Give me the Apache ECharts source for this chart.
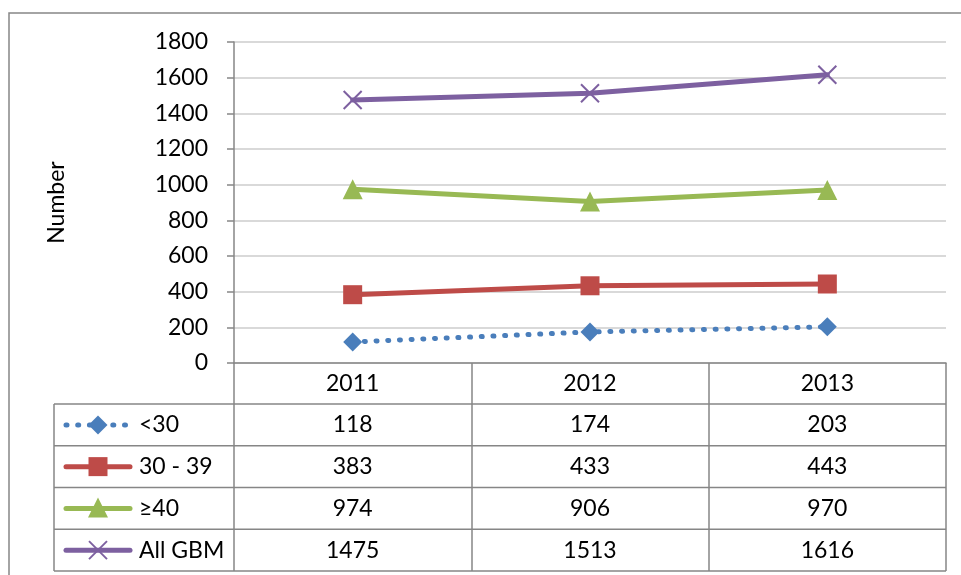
<!DOCTYPE html>
<html>
<head>
<meta charset="utf-8">
<script src="https://cdn.jsdelivr.net/npm/echarts@6/dist/echarts.min.js"></script>
<style>
  html, body { margin: 0; padding: 0; background: #fff; }
  #chart { width: 961px; height: 575px; }
</style>
</head>
<body>
<div id="chart"></div>
<script>
// Yearly counts by age group
const years = ['2011', '2012', '2013'];
const under30 = [118, 174, 203];
const age30to39 = [383, 433, 443];
const age40plus = [974, 906, 970];
const allGBM = [1475, 1513, 1616];
const seriesNames = ['<30', '30 - 39', '≥40', 'All GBM'];
const yMin = 0, yMax = 1800, yStep = 200;

const FONT = 'Lato';
const FS = 23;
const GRAY = '#868686';
const GRID_GRAY = '#d9d9d9';
const colors = ['#4a7ebb', '#be4b48', '#98b954', '#7d60a0'];

// Layout of plot area and the data table below it
const PLOT_L = 234, PLOT_R = 946, PLOT_T = 42, PLOT_B = 363;
const TABLE_L = 54, HEADER_B = 404, ROW_H = 41.75;

const chart = echarts.init(document.getElementById('chart'));

const seriesData = [under30, age30to39, age40plus, allGBM];
const symbols = ['diamond', 'rect', 'triangle', 'path://M0,0L10,10M0,10L10,0'];
const symbolSizes = [19, 19, 20, 18];
const DOTS = [1, 10.7];

const series = seriesData.map((d, i) => ({
  name: seriesNames[i],
  type: 'line',
  data: d,
  symbol: symbols[i],
  symbolSize: symbolSizes[i],
  showAllSymbol: true,
  z: 3 + i,
  lineStyle: i === 0
    ? { color: colors[i], width: 5, type: DOTS, cap: 'round' }
    : { color: colors[i], width: 5, cap: 'round' },
  itemStyle: i === 3
    ? { color: 'none', borderColor: colors[i], borderWidth: 2 }
    : { color: colors[i], borderWidth: 0 },
  emphasis: { disabled: true },
  animation: false
}));

chart.setOption({
  animation: false,
  textStyle: { fontFamily: FONT },
  grid: { left: PLOT_L, right: 961 - PLOT_R, top: PLOT_T, bottom: 575 - PLOT_B, containLabel: false },
  xAxis: {
    type: 'category',
    data: years,
    boundaryGap: true,
    axisLine: { lineStyle: { color: GRAY, width: 1.5 } },
    axisTick: { show: true, length: 571 - PLOT_B, lineStyle: { color: GRAY, width: 1.5 } },
    axisLabel: { fontFamily: FONT, fontSize: FS, color: '#000', margin: 20.5, verticalAlign: 'middle' }
  },
  yAxis: {
    type: 'value',
    min: yMin, max: yMax, interval: yStep,
    name: 'Number',
    nameLocation: 'middle',
    nameRotate: 90,
    nameGap: 166,
    nameMoveOverlap: false,
    nameTextStyle: { fontFamily: FONT, fontSize: FS, color: '#000' },
    axisLine: { show: true, lineStyle: { color: GRAY, width: 1.5 } },
    axisTick: { show: true, length: 7, lineStyle: { color: GRAY, width: 1.5 } },
    axisLabel: { fontFamily: FONT, fontSize: FS, color: '#000', margin: 26, formatter: v => String(v) },
    splitLine: { lineStyle: { color: GRID_GRAY, width: 2 } }
  },
  series: series
});

// Data table: grid lines, legend keys and cell values beneath the plot
const graphics = [];
graphics.push({
  type: 'rect', z: 0, silent: true,
  shape: { x: 9, y: 13, width: 1000, height: 1000 },
  style: { fill: 'none', stroke: GRAY, lineWidth: 1.5 }
});
const gridLine = { stroke: GRAY, lineWidth: 1.5 };
for (let r = 0; r <= seriesNames.length; r++) {
  const y = HEADER_B + r * ROW_H;
  graphics.push({ type: 'line', silent: true, z: 10, shape: { x1: TABLE_L, y1: y, x2: PLOT_R, y2: y }, style: gridLine });
}
graphics.push({ type: 'line', silent: true, z: 10, shape: { x1: TABLE_L, y1: HEADER_B, x2: TABLE_L, y2: HEADER_B + seriesNames.length * ROW_H }, style: gridLine });

// Legend key inside each row: a short line with the series marker in its middle
const KEY_X1 = 66, KEY_X2 = 130, KEY_CX = 98;
function markerShapes(i, cx, cy) {
  const c = colors[i];
  if (i === 0) {
    const r = 9.5;
    return [{ type: 'polygon', shape: { points: [[cx, cy - r], [cx + r, cy], [cx, cy + r], [cx - r, cy]] }, style: { fill: c } }];
  }
  if (i === 1) {
    return [{ type: 'rect', shape: { x: cx - 9.5, y: cy - 9.5, width: 19, height: 19 }, style: { fill: c } }];
  }
  if (i === 2) {
    return [{ type: 'polygon', shape: { points: [[cx, cy - 11], [cx + 10, cy + 9], [cx - 10, cy + 9]] }, style: { fill: c } }];
  }
  const st = { stroke: c, lineWidth: 2 };
  return [
    { type: 'line', shape: { x1: cx - 9, y1: cy - 9, x2: cx + 9, y2: cy + 9 }, style: st },
    { type: 'line', shape: { x1: cx - 9, y1: cy + 9, x2: cx + 9, y2: cy - 9 }, style: st }
  ];
}
seriesNames.forEach((name, i) => {
  const cy = HEADER_B + (i + 0.5) * ROW_H;
  const ls = i === 0
    ? { stroke: colors[i], lineWidth: 5, lineCap: 'round', lineDash: DOTS }
    : { stroke: colors[i], lineWidth: 5, lineCap: 'round' };
  graphics.push({ type: 'line', silent: true, z: 11, shape: { x1: KEY_X1, y1: cy, x2: KEY_X2, y2: cy }, style: ls });
  markerShapes(i, KEY_CX, cy).forEach(m => {
    m.silent = true; m.z = 12;
    graphics.push(m);
  });
  graphics.push({
    type: 'text', silent: true, z: 12, x: 139, y: cy,
    style: { text: name, fontFamily: FONT, fontSize: FS, fill: '#000', align: 'left', verticalAlign: 'middle' }
  });
});

seriesData.forEach((d, i) => {
  d.forEach((v, j) => {
    const x = chart.convertToPixel({ xAxisIndex: 0 }, years[j]);
    graphics.push({
      type: 'text', silent: true, z: 10,
      x: x, y: HEADER_B + (i + 0.5) * ROW_H,
      style: { text: String(v), fontFamily: FONT, fontSize: FS, fill: '#000', align: 'center', verticalAlign: 'middle' }
    });
  });
});
chart.setOption({ graphic: graphics });
</script>
</body>
</html>
